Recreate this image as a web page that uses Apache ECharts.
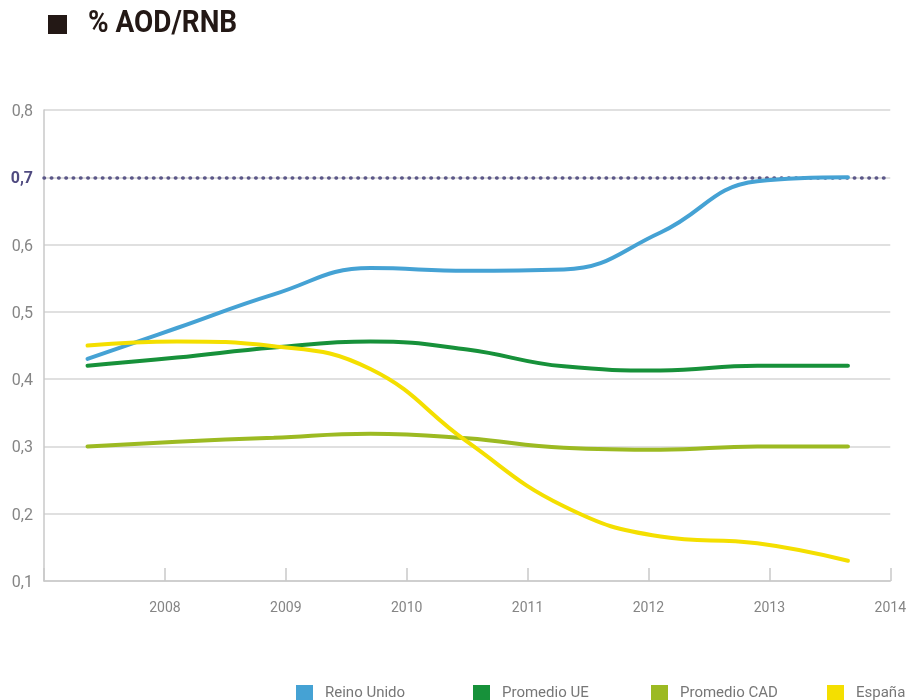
<!DOCTYPE html>
<html>
<head>
  <meta charset="utf-8">
  <title>% AOD/RNB</title>
  <script src="https://cdn.jsdelivr.net/npm/echarts@6/dist/echarts.min.js"></script>
  <style>
    html, body { margin: 0; padding: 0; background: #fff; }
    #chart { width: 909px; height: 700px; }
  </style>
</head>
<body>
<div id="chart"></div>
<script>
var years = [2007.36, 2008.1, 2008.9, 2009.7, 2010.5, 2011.3, 2012.1, 2012.9, 2013.65];

var reinoUnido  = [0.43, 0.476, 0.526, 0.565, 0.561, 0.563, 0.618, 0.694, 0.70];
var promedioUE  = [0.42, 0.432, 0.447, 0.456, 0.444, 0.419, 0.413, 0.420, 0.42];
var promedioCAD = [0.30, 0.307, 0.313, 0.319, 0.312, 0.298, 0.295, 0.300, 0.30];
var espana      = [0.45, 0.456, 0.449, 0.415, 0.307, 0.211, 0.166, 0.156, 0.13];

var seriesNames = ['Reino Unido', 'Promedio UE', 'Promedio CAD', 'España'];
var seriesColors = ['#45a2d4', '#17913a', '#9cba22', '#f4df00'];
var seriesValues = [reinoUnido, promedioUE, promedioCAD, espana];

var target = 0.7;
var legendLeft = [291, 468, 646, 822];

function pairs(vals) {
    return vals.map(function(v, i) { return [years[i], v]; });
}

var series = seriesNames.map(function(name, i) {
    return {
        name: name,
        type: 'line',
        data: pairs(seriesValues[i]),
        smooth: 0.45,
        showSymbol: false,
        symbol: 'none',
        lineStyle: { width: 4, color: seriesColors[i], cap: 'round' },
        itemStyle: { color: seriesColors[i] },
        z: 3 + i
    };
});

// dotted 0,7 target line
series[0].markLine = {
    silent: true,
    symbol: ['none', 'none'],
    label: { show: false },
    lineStyle: { color: '#5b5788', width: 3.5, type: [0.5, 6.8], cap: 'round' },
    data: [{ yAxis: target }],
    z: 1
};

var legends = seriesNames.map(function(name, i) {
    return {
        data: [name],
        left: legendLeft[i],
        top: 680,
        itemWidth: 17,
        itemHeight: 17,
        icon: 'rect',
        textStyle: { color: '#777', fontSize: 15, fontFamily: 'Roboto', padding: [0, 0, 0, 7] }
    };
});

var myChart = echarts.init(document.getElementById('chart'));
var option = {
    animation: false,
    backgroundColor: '#fff',
    graphic: [{
        type: 'rect',
        left: 48,
        top: 15,
        shape: { width: 19, height: 19 },
        style: { fill: '#231815' }
    }, {
        type: 'text',
        x: 88,
        y: 9,
        scaleX: 0.9,
        style: {
            text: '% AOD/RNB',
            fill: '#231815',
            font: 'bold 31px Roboto'
        }
    }],
    legend: legends,
    grid: {
        left: 44,
        right: 16,
        top: 110,
        bottom: 119,
        containLabel: false
    },
    xAxis: {
        type: 'value',
        min: 2007,
        max: 2014,
        interval: 1,
        axisLine: { show: true, lineStyle: { color: '#c9c9c9', width: 1.5 } },
        axisTick: { show: true, inside: true, length: 13, lineStyle: { color: '#c9c9c9', width: 1.5 } },
        splitLine: { show: false },
        axisLabel: {
            color: '#858585',
            fontSize: 14,
            fontFamily: 'Roboto',
            margin: 20,
            formatter: function(v) { return v === 2007 ? '' : String(v); }
        }
    },
    yAxis: {
        type: 'value',
        min: 0.1,
        max: 0.8,
        interval: 0.1,
        axisLine: { show: true, lineStyle: { color: '#c9c9c9', width: 1.5 } },
        axisTick: { show: false },
        splitLine: { show: true, lineStyle: { color: '#d6d6d6', width: 1.5 } },
        axisLabel: {
            color: '#858585',
            fontSize: 16,
            fontFamily: 'Roboto',
            margin: 11,
            padding: [4, 0, 0, 0],
            formatter: function(v) {
                var s = v.toFixed(1).replace('.', ',');
                if (Math.abs(v - target) < 1e-6) return '{hl|' + s + '}';
                return s;
            },
            rich: {
                hl: { color: '#4f4a80', fontWeight: 'bold', fontSize: 16, fontFamily: 'Roboto' }
            }
        }
    },
    series: series
};
myChart.setOption(option);
</script>
</body>
</html>
